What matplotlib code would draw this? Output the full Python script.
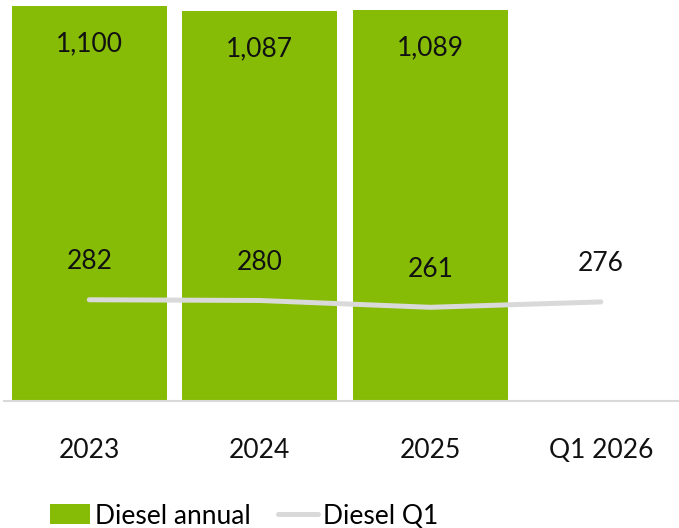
import matplotlib
matplotlib.use('Agg')
import matplotlib.pyplot as plt
from matplotlib.lines import Line2D
from matplotlib.patches import Patch

categories = ['2023', '2024', '2025', 'Q1 2026']
annual = [1100, 1087, 1089]
annual_labels = ['1,100', '1,087', '1,089']
q1 = [282, 280, 261, 276]
q1_labels = ['282', '280', '261', '276']

GREEN = '#86BC05'
GREY = '#D9D9D9'

plt.rcParams['font.family'] = ['Lato', 'DejaVu Sans']
FS = 19

fig = plt.figure(figsize=(6.79, 5.28), dpi=100)
ax = fig.add_axes([4/679, 127/528, 682/679, 401/528])
xs = list(range(len(categories)))
ax.bar(xs[:3], annual, width=0.91, color=GREEN, zorder=2)
ax.plot(xs, q1, color=GREY, lw=3.6, solid_capstyle='round', zorder=3)

for xi, v, lab in zip(xs, annual, annual_labels):
    ax.annotate(lab, xy=(xi, v), xytext=(0, -38), textcoords='offset pixels',
                ha='center', va='center', fontsize=FS, color='#111111')
for xi, v, lab in zip(xs, q1, q1_labels):
    ax.annotate(lab, xy=(xi, v), xytext=(0, 38), textcoords='offset pixels',
                ha='center', va='center', fontsize=FS, color='#111111')

ax.set_xlim(-0.5, 3.5)
ax.set_ylim(0, 1117)
ax.set_xticks(xs)
ax.set_xticklabels(categories, fontsize=FS, color='#111111')
ax.set_yticks([])
ax.tick_params(axis='x', length=0, pad=27)
for s in ['top', 'left', 'right']:
    ax.spines[s].set_visible(False)
ax.spines['bottom'].set_color(GREY)
ax.spines['bottom'].set_linewidth(1.5)
ax.patch.set_alpha(0)

handles = [Patch(facecolor=GREEN, edgecolor='none', label='Diesel annual'),
           Line2D([0], [0], color=GREY, lw=3.6, solid_capstyle='round', label='Diesel Q1')]
fig.legend(handles=handles, loc='center left', bbox_to_anchor=(50/679, 1 - 516/528), ncol=2,
           frameon=False, fontsize=FS, handlelength=1.5, handleheight=0.8,
           handletextpad=0.2, columnspacing=1.05, borderaxespad=0, borderpad=0)

fig.savefig('out.png', dpi=100)
